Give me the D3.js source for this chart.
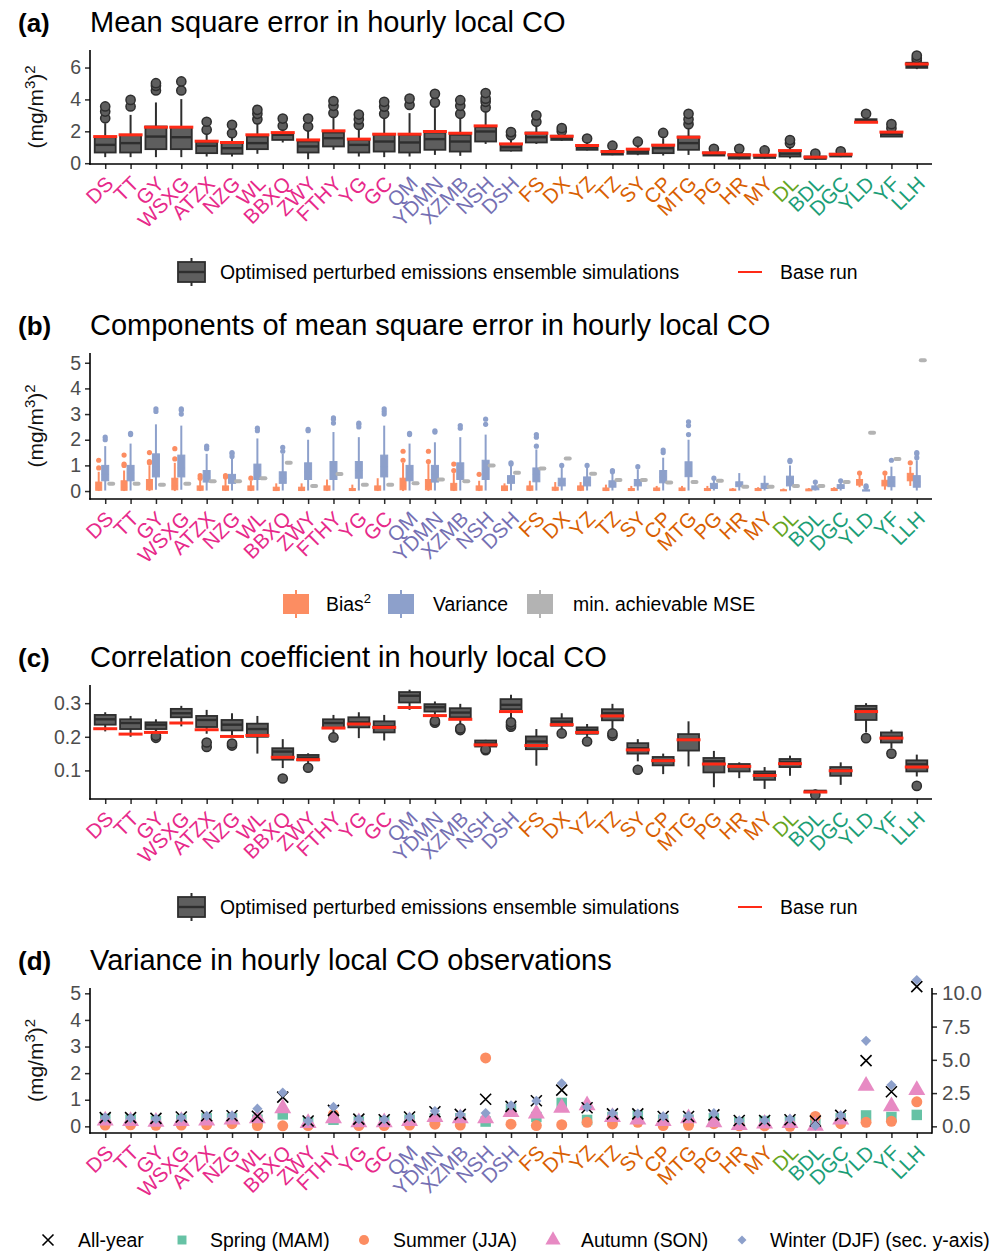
<!DOCTYPE html>
<html>
<head>
<meta charset="utf-8">
<script src="https://cdn.jsdelivr.net/npm/d3@7"></script>
<style>
  body { margin: 0; background: #fff; }
  svg text { font-family: "Liberation Sans", Arial, sans-serif; }
</style>
</head>
<body>
<div class="box"></div>
<script>
// stations and their group (colour of the tick label)
const stations = ['DS','TT','GY','WSXG','ATZX','NZG','WL','BBXQ','ZWY','FTHY','YG','GC',
                  'QM','YDMN','XZMB','NSH','DSH',
                  'FS','DX','YZ','TZ','SY','CP','MTG','PG','HR','MY',
                  'DL','BDL','DGC','YLD','YF','LLH'];
const stationGroup = [0,0,0,0,0,0,0,0,0,0,0,0, 1,1,1,1,1, 2,2,2,2,2,2,2,2,2,2, 3,4,4,4,4,4];
const groupColours = ['#e7298a','#7570b3','#d95f02','#66a61e','#1b9e77'];

// (a) MSE : [lower whisker, Q1, median, Q3, upper whisker]
const mseBox = [
  [0.38,0.67,1.15,1.63,2.51],[0.38,0.67,1.26,1.78,3.03],[0.38,0.88,1.67,2.30,3.81],[0.38,0.88,1.63,2.26,4.02],
  [0.42,0.63,1.09,1.30,1.88],[0.42,0.59,0.94,1.26,1.67],[0.59,0.88,1.26,1.67,2.62],[1.30,1.46,1.78,1.88,2.20],
  [0.25,0.67,1.05,1.36,2.09],[0.84,1.05,1.57,1.92,3.03],[0.42,0.67,1.15,1.46,2.20],[0.38,0.73,1.36,1.78,3.03],
  [0.42,0.67,1.30,1.78,3.14],[0.52,0.84,1.51,1.92,3.45],[0.46,0.73,1.36,1.78,3.03],[1.21,1.36,1.99,2.26,3.35],
  [0.73,0.79,1.00,1.21,1.67],[1.21,1.30,1.63,1.92,2.51],[1.40,1.46,1.59,1.72,1.95],[0.80,0.84,0.98,1.11,1.46],
  [0.50,0.54,0.64,0.77,0.95],[0.50,0.59,0.72,0.88,1.15],[0.48,0.63,0.94,1.15,1.57],[0.52,0.84,1.26,1.67,2.20],
  [0.45,0.48,0.56,0.67,0.75],[0.25,0.29,0.40,0.56,0.70],[0.28,0.33,0.42,0.52,0.65],[0.30,0.42,0.60,0.79,1.00],
  [0.22,0.27,0.32,0.42,0.50],[0.38,0.42,0.50,0.59,0.65],[2.55,2.57,2.64,2.76,2.85],[1.65,1.67,1.82,1.95,2.05],
  [5.90,5.98,6.10,6.30,6.35]
];
const mseOut = [[2.82,3.24,3.56],[3.56,3.97],[4.56,4.85,5.02],[4.56,5.13],[2.1,2.6],[1.88,2.41],[2.75,3.1,3.35],
  [2.35,2.8],[2.3,2.8],[3.15,3.6,3.9],[2.4,2.75,3.05],[3.1,3.55,3.85],[3.65,4.05],[3.8,4.35],[3.1,3.6,3.95],
  [3.5,3.85,4.05,4.4],[1.75,1.95],[2.6,3.0],[2.0,2.2],[1.55],[1.1],[1.35],[1.9],[2.45,2.75,3.1],[0.9],[0.9],[0.8],
  [1.25,1.45],[0.6],[0.75],[3.1],[2.2,2.45],[6.45,6.6,6.75]];
const mseBase = [1.67,1.78,2.26,2.26,1.38,1.30,1.78,1.92,1.46,2.03,1.51,1.82,1.82,1.99,1.88,2.34,1.21,1.88,1.69,
  1.11,0.73,0.88,1.13,1.63,0.65,0.52,0.50,0.79,0.38,0.56,2.57,1.95,6.22];

// (b) components of MSE
const biasBox = [
  [0,0.03,0.12,0.35,0.75],[0,0.03,0.15,0.40,0.80],[0,0.05,0.18,0.45,1.00],[0,0.05,0.20,0.50,1.10],
  [0,0.03,0.08,0.20,0.45],[0,0.03,0.08,0.20,0.50],[0,0.03,0.08,0.20,0.40],[0,0.02,0.06,0.15,0.30],
  [0,0.02,0.06,0.15,0.30],[0,0.03,0.08,0.20,0.45],[0,0.02,0.04,0.10,0.25],[0,0.03,0.08,0.20,0.50],
  [0,0.05,0.20,0.50,1.10],[0,0.05,0.18,0.45,1.05],[0,0.03,0.12,0.30,0.70],[0,0.03,0.08,0.20,0.40],
  [0,0.02,0.08,0.20,0.30],[0,0.03,0.08,0.20,0.40],[0,0.03,0.06,0.15,0.35],[0,0.03,0.08,0.20,0.35],
  [0,0.02,0.05,0.12,0.25],[0,0.02,0.04,0.10,0.20],[0,0.02,0.05,0.12,0.20],[0,0.02,0.05,0.12,0.20],
  [0,0.02,0.04,0.10,0.20],[0,0.02,0.04,0.08,0.12],[0,0.02,0.04,0.10,0.15],[0,0.01,0.03,0.05,0.10],
  [0,0.01,0.04,0.08,0.12],[0,0.02,0.05,0.10,0.15],[0.15,0.23,0.35,0.45,0.65],[0.05,0.20,0.30,0.42,0.62],
  [0.20,0.40,0.55,0.69,0.95]
];
const biasOut = [[0.9,1.2],[1.0,1.05,1.4],[1.1,1.15,1.5],[1.25,1.65],[0.5,0.6],[0.55,0.6],[0.5],[],[],[],[],[],
  [1.2,1.55],[1.15,1.55],[0.8,1.05],[0.65],[],[],[],[],[],[],[],[],[],[],[],[],[],[],[0.7],[0.7],[1.1]];
const varBox = [
  [0.02,0.40,0.65,1.00,1.75],[0.02,0.40,0.70,1.00,1.85],[0.05,0.55,0.95,1.45,2.60],[0.05,0.55,0.90,1.40,2.55],
  [0.02,0.35,0.55,0.80,1.45],[0.02,0.30,0.45,0.65,1.25],[0.02,0.45,0.75,1.05,2.05],[0.02,0.30,0.50,0.75,1.45],
  [0.02,0.45,0.75,1.10,2.00],[0.02,0.45,0.80,1.15,2.30],[0.02,0.50,0.80,1.15,2.10],[0.02,0.55,0.95,1.40,2.55],
  [0.02,0.40,0.70,1.00,1.85],[0.02,0.35,0.65,1.00,1.90],[0.02,0.45,0.75,1.10,2.10],[0.02,0.45,0.85,1.20,2.20],
  [0.02,0.30,0.45,0.60,1.00],[0.02,0.36,0.65,0.90,1.62],[0.02,0.20,0.30,0.50,0.90],[0.02,0.20,0.35,0.55,0.95],
  [0.02,0.15,0.25,0.40,0.70],[0.02,0.20,0.30,0.45,0.85],[0.02,0.32,0.55,0.80,1.30],[0.02,0.56,0.85,1.14,2.00],
  [0.02,0.10,0.20,0.30,0.45],[0.02,0.17,0.25,0.36,0.70],[0.02,0.10,0.20,0.30,0.60],[0.02,0.20,0.35,0.58,1.00],
  [0.02,0.05,0.12,0.20,0.30],[0.02,0.10,0.17,0.25,0.35],[0.00,0.00,0.02,0.05,0.10],[0.02,0.17,0.35,0.56,0.95],
  [0.02,0.15,0.35,0.60,1.20]
];
const varOut = [[2.0,2.1],[2.2,2.25],[3.1,3.2],[3.0,3.15,3.2],[1.65,1.75],[1.35,1.45,1.5],[2.35,2.45],[1.55,1.7],
  [2.35,2.4],[2.65,2.8,2.85],[2.5,2.6,2.65],[3.0,3.1,3.2],[2.2,2.25],[2.3,2.35],[2.45,2.55],[2.6,2.8],[1.05,1.1],
  [1.75,2.1,2.2],[1.0],[1.0],[0.75,0.8],[0.95],[1.5,1.6],[2.2,2.55,2.7],[0.5],[],[],[1.15,1.2],[0.35],[0.4],
  [0.15,0.2],[1.2],[1.3,1.45,1.5]];
const minMse = [0.28,0.28,0.25,0.28,0.38,0.38,0.50,1.10,0.20,0.66,0.25,0.25,0.30,0.45,0.38,1.00,0.71,0.88,1.27,
  0.67,0.43,0.43,0.33,0.35,0.40,0.17,0.17,0.20,0.20,0.35,2.27,1.25,5.10];

// (c) correlation coefficient
const corrBox = [
  [0.216,0.236,0.252,0.265,0.273],[0.200,0.223,0.241,0.252,0.262],[0.211,0.223,0.236,0.243,0.252],
  [0.231,0.258,0.270,0.283,0.292],[0.209,0.229,0.250,0.262,0.280],[0.200,0.219,0.236,0.250,0.270],
  [0.150,0.200,0.223,0.239,0.262],[0.107,0.132,0.156,0.166,0.193],[0.120,0.130,0.138,0.146,0.151],
  [0.209,0.226,0.241,0.252,0.265],[0.196,0.228,0.243,0.258,0.273],[0.189,0.213,0.231,0.246,0.265],
  [0.280,0.302,0.322,0.333,0.340],[0.258,0.275,0.288,0.297,0.305],[0.236,0.258,0.272,0.285,0.298],
  [0.163,0.171,0.180,0.189,0.191],[0.255,0.282,0.295,0.312,0.325],[0.114,0.163,0.186,0.201,0.223],
  [0.223,0.233,0.245,0.255,0.270],[0.200,0.209,0.220,0.228,0.238],[0.221,0.249,0.270,0.282,0.298],
  [0.127,0.150,0.166,0.181,0.193],[0.089,0.115,0.130,0.140,0.150],[0.112,0.159,0.191,0.208,0.246],
  [0.050,0.094,0.127,0.137,0.158],[0.077,0.097,0.112,0.119,0.124],[0.045,0.072,0.090,0.097,0.110],
  [0.084,0.110,0.125,0.134,0.144],[0.033,0.035,0.037,0.040,0.043],[0.057,0.084,0.100,0.110,0.124],
  [0.213,0.250,0.282,0.292,0.300],[0.166,0.183,0.200,0.213,0.221],[0.082,0.097,0.118,0.130,0.147]
];
const corrOut = [[],[],[0.197,0.203],[],[0.17,0.183],[0.174,0.18],[],[0.076],[0.108],[0.198],[],[],[],
  [0.242,0.247],[0.22,0.225],[0.16,0.163],[0.23,0.236,0.243],[],[0.21],[0.186],[0.203,0.21],[0.102],[],[],[],
  [],[],[],[0.028],[],[0.196],[0.15],[0.054]];
const corrBase = [0.224,0.208,0.213,0.241,0.221,0.201,0.204,0.139,0.132,0.226,0.238,0.228,0.287,0.263,0.252,0.176,
  0.275,0.174,0.236,0.213,0.262,0.161,0.129,0.191,0.119,0.112,0.085,0.120,0.036,0.099,0.275,0.196,0.110];

// (d) variance of observations, winter is on the secondary axis
const allYear = [0.33,0.33,0.30,0.35,0.40,0.40,0.38,1.10,0.20,0.60,0.27,0.25,0.35,0.55,0.45,1.02,0.75,0.96,1.36,
  0.70,0.47,0.47,0.37,0.37,0.43,0.22,0.22,0.25,0.20,0.41,2.47,1.30,5.25];
const spring = [0.28,0.25,0.20,0.25,0.30,0.30,0.25,0.45,0.15,0.25,0.18,0.18,0.25,0.30,0.30,0.18,0.66,0.35,0.88,
  0.24,0.35,0.40,0.25,0.25,0.30,0.15,0.20,0.18,0.10,0.30,0.41,0.35,0.43];
const summer = [0.05,0.06,0.04,0.05,0.06,0.10,0.03,0.02,0.03,0.45,0.03,0.03,0.05,0.08,0.05,2.57,0.08,0.03,0.06,
  0.15,0.09,0.15,0.03,0.04,0.10,0.02,0.02,0.00,0.37,0.10,0.15,0.19,0.92];
const autumn = [0.22,0.20,0.17,0.20,0.22,0.25,0.30,0.68,0.12,0.30,0.15,0.15,0.20,0.35,0.30,0.30,0.54,0.48,0.70,
  0.79,0.35,0.25,0.20,0.30,0.15,0.05,0.10,0.12,0.02,0.25,1.52,0.75,1.36];
const winter = [0.66,0.62,0.56,0.66,0.78,0.80,1.33,2.54,0.40,1.46,0.54,0.52,0.70,1.15,0.90,1.00,1.58,1.91,3.24,
  1.45,0.99,0.95,0.75,0.78,0.99,0.43,0.45,0.56,0.05,0.82,6.43,3.11,11.0];

// ---------------------------------------------------------------
const W = 1003, H = 1254;
const left = 90, right = 932;
const grey = '#2e2e2e', boxFill = '#5e5e5e', red = '#ff2a16';
const cOrange = '#fc8d62', cBlue = '#8da0cb', cGrey = '#b3b3b3', cGreen = '#66c2a5', cPink = '#e78ac3';
const tickSize = 19.5, labSize = 20.5, legSize = 19.4;

const svg = d3.select('.box').append('svg').attr('width', W).attr('height', H);

const step = (right - left) / (stations.length - 1 + 1.2);
const x = d3.scalePoint().domain(stations).range([left + 0.6 * step, right - 0.6 * step]);

const yA = d3.scaleLinear().domain([-0.05, 7.1]).range([164, 50]);
const yB = d3.scaleLinear().domain([-0.31, 5.38]).range([499, 353]);
const yC = d3.scaleLinear().domain([0.015, 0.354]).range([799, 685]);
const yD = d3.scaleLinear().domain([-0.25, 5.2]).range([1133, 988]);
const yD2 = d3.scaleLinear().domain([-0.5, 10.4]).range([1133, 988]);

// titre du panneau
function title(letter, text, y) {
  svg.append('text').attr('x', 18).attr('y', y).attr('font-size', 26).attr('font-weight', 'bold').text(letter);
  svg.append('text').attr('x', 90).attr('y', y).attr('font-size', 29).text(text);
}

function yTitle(y0, y1) {
  const t = svg.append('text').attr('transform', `translate(43,${(y0 + y1) / 2}) rotate(-90)`)
    .attr('text-anchor', 'middle').attr('font-size', 21).attr('fill', '#111');
  t.append('tspan').text('(mg/m');
  t.append('tspan').attr('font-size', 15).attr('dy', -8).text('3');
  t.append('tspan').attr('dy', 8).text(')');
  t.append('tspan').attr('font-size', 15).attr('dy', -8).text('2');
}

function axes(y, ticks, fmt) {
  const [b, t] = y.range();
  const ax = svg.append('g').attr('transform', `translate(${left},0)`)
    .call(d3.axisLeft(y).tickValues(ticks).tickSize(5).tickPadding(4).tickSizeOuter(0).tickFormat(fmt || d3.format('d')));
  ax.select('.domain').remove();
  ax.selectAll('.tick line').attr('stroke', grey).attr('stroke-width', 1.5);
  ax.selectAll('.tick text').attr('font-size', tickSize).attr('fill', '#4d4d4d').attr('font-family', null);

  const bx = svg.append('g').attr('transform', `translate(0,${b})`)
    .call(d3.axisBottom(x).tickSize(5).tickSizeOuter(0));
  bx.select('.domain').remove();
  bx.selectAll('.tick line').attr('stroke', grey).attr('stroke-width', 1.5);
  bx.selectAll('.tick text')
    .attr('y', 0).attr('dy', 0)
    .attr('text-anchor', 'end')
    .attr('transform', 'translate(9,21) rotate(-45)')
    .attr('font-size', labSize).attr('font-family', null)
    .attr('fill', (d, i) => groupColours[stationGroup[i]]);

  svg.append('line').attr('x1', left).attr('x2', left).attr('y1', t).attr('y2', b + 0.75)
    .attr('stroke', '#000').attr('stroke-width', 1.6);
  svg.append('line').attr('x1', left - 0.75).attr('x2', right).attr('y1', b).attr('y2', b)
    .attr('stroke', '#000').attr('stroke-width', 1.6);
}

// boites a moustaches
function boxes(y, data, outs, o) {
  const g = svg.append('g');
  const cx = i => x(stations[i]) + o.dx;
  const items = g.selectAll('g').data(data).join('g');
  items.append('line').attr('x1', (d, i) => cx(i)).attr('x2', (d, i) => cx(i))
    .attr('y1', d => y(d[0])).attr('y2', d => y(d[4]))
    .attr('stroke', o.stroke).attr('stroke-width', o.lw);
  items.append('rect').attr('x', (d, i) => cx(i) - o.w / 2).attr('width', o.w)
    .attr('y', d => y(d[3])).attr('height', d => Math.max(0.5, y(d[1]) - y(d[3])))
    .attr('fill', o.fill).attr('stroke', o.stroke).attr('stroke-width', o.bw);
  items.append('line').attr('x1', (d, i) => cx(i) - o.w / 2).attr('x2', (d, i) => cx(i) + o.w / 2)
    .attr('y1', d => y(d[2])).attr('y2', d => y(d[2]))
    .attr('stroke', o.stroke).attr('stroke-width', o.mw);
  const pts = outs.flatMap((arr, i) => arr.map(v => ({i, v})));
  g.selectAll('circle').data(pts).join('circle')
    .attr('cx', d => cx(d.i)).attr('cy', d => y(d.v)).attr('r', o.r)
    .attr('fill', o.fill).attr('stroke', o.stroke).attr('stroke-width', o.pw);
}

function baseRun(y, vals) {
  svg.append('g').selectAll('line').data(vals).join('line')
    .attr('x1', (d, i) => x(stations[i]) - 12).attr('x2', (d, i) => x(stations[i]) + 12)
    .attr('y1', d => y(d)).attr('y2', d => y(d))
    .attr('stroke', red).attr('stroke-width', 3);
}

function ensembleLegend(yc) {
  const g = svg.append('g');
  g.append('line').attr('x1', 191.5).attr('x2', 191.5).attr('y1', yc - 14).attr('y2', yc + 14)
    .attr('stroke', grey).attr('stroke-width', 2);
  g.append('rect').attr('x', 178).attr('y', yc - 10).attr('width', 27).attr('height', 20)
    .attr('fill', boxFill).attr('stroke', grey).attr('stroke-width', 1.8);
  g.append('line').attr('x1', 178).attr('x2', 205).attr('y1', yc).attr('y2', yc)
    .attr('stroke', grey).attr('stroke-width', 2.4);
  g.append('text').attr('x', 220).attr('y', yc + 7).attr('font-size', legSize)
    .text('Optimised perturbed emissions ensemble simulations');
  g.append('line').attr('x1', 738).attr('x2', 762).attr('y1', yc).attr('y2', yc)
    .attr('stroke', red).attr('stroke-width', 2);
  g.append('text').attr('x', 780).attr('y', yc + 7).attr('font-size', legSize).text('Base run');
}

// ---------------- (a)
title('(a)', 'Mean square error in hourly local CO', 32);
yTitle(50, 164);
axes(yA, [0, 2, 4, 6]);
boxes(yA, mseBox, mseOut, {dx: 0, w: 21, fill: boxFill, stroke: grey, lw: 2, bw: 1.8, mw: 2.4, r: 4.6, pw: 1.5});
baseRun(yA, mseBase);
ensembleLegend(272);

// ---------------- (b)
title('(b)', 'Components of mean square error in hourly local CO', 335);
yTitle(353, 499);
axes(yB, [0, 1, 2, 3, 4, 5]);
boxes(yB, biasBox, biasOut, {dx: -6.5, w: 6, fill: cOrange, stroke: cOrange, lw: 2, bw: 1, mw: 1, r: 2.6, pw: 0});
boxes(yB, varBox, varOut, {dx: 0, w: 7, fill: cBlue, stroke: cBlue, lw: 2, bw: 1, mw: 1, r: 2.6, pw: 0});
svg.append('g').selectAll('rect').data(minMse).join('rect')
  .attr('x', (d, i) => x(stations[i]) + 2).attr('width', 8)
  .attr('y', d => yB(d) - 2).attr('height', 4).attr('rx', 2)
  .attr('fill', cGrey);

const legB = [
  {x: 283, c: cOrange, label: 'Bias', sup: '2', tx: 326},
  {x: 388, c: cBlue, label: 'Variance', tx: 433},
  {x: 527, c: cGrey, label: 'min. achievable MSE', tx: 573}
];
const lb = svg.append('g').selectAll('g').data(legB).join('g');
lb.append('line').attr('x1', d => d.x + 13).attr('x2', d => d.x + 13).attr('y1', 590).attr('y2', 618)
  .attr('stroke', d => d.c).attr('stroke-width', 2);
lb.append('rect').attr('x', d => d.x).attr('y', 594).attr('width', 26).attr('height', 20).attr('fill', d => d.c);
const lbt = lb.append('text').attr('x', d => d.tx).attr('y', 611).attr('font-size', legSize);
lbt.append('tspan').text(d => d.label);
lbt.filter(d => d.sup).append('tspan').attr('font-size', 13).attr('dy', -8).text(d => d.sup);

// ---------------- (c)
title('(c)', 'Correlation coefficient in hourly local CO', 667);
axes(yC, [0.1, 0.2, 0.3], d3.format('.1f'));
boxes(yC, corrBox, corrOut, {dx: 0, w: 21, fill: boxFill, stroke: grey, lw: 2, bw: 1.8, mw: 2.4, r: 4.6, pw: 1.5});
baseRun(yC, corrBase);
ensembleLegend(907);

// ---------------- (d)
title('(d)', 'Variance in hourly local CO observations', 970);
yTitle(988, 1133);
axes(yD, [0, 1, 2, 3, 4, 5]);
const ax2 = svg.append('g').attr('transform', `translate(${right},0)`)
  .call(d3.axisRight(yD2).tickValues([0, 2.5, 5, 7.5, 10]).tickSize(5).tickPadding(5).tickSizeOuter(0)
    .tickFormat(d3.format('.1f')));
ax2.select('.domain').remove();
ax2.selectAll('.tick line').attr('stroke', grey).attr('stroke-width', 1.5);
ax2.selectAll('.tick text').attr('font-size', 20.5).attr('fill', '#4d4d4d').attr('font-family', null);
svg.append('line').attr('x1', right).attr('x2', right).attr('y1', 988).attr('y2', 1133.75)
  .attr('stroke', '#000').attr('stroke-width', 1.6);

const sq = d3.symbol(d3.symbolSquare, 110)();
const ci = d3.symbol(d3.symbolCircle, 95)();
const tri = d3.symbol(d3.symbolTriangle, 125)();
const dia = d3.symbol(d3.symbolSquare, 52)();
const cross = 'M-5.5,-5.5L5.5,5.5M-5.5,5.5L5.5,-5.5';

function markers(vals, y, path, fill, rot) {
  svg.append('g').selectAll('path').data(vals).join('path')
    .attr('d', path)
    .attr('transform', (d, i) => `translate(${x(stations[i])},${y(d)})${rot ? ' rotate(45)' : ''}`)
    .attr('fill', fill || 'none')
    .attr('stroke', fill ? 'none' : '#000').attr('stroke-width', 1.6);
}
markers(spring, yD, sq, cGreen);
markers(summer, yD, ci, cOrange);
markers(autumn, yD, tri, cPink);
markers(allYear, yD, cross, null);
markers(winter, yD2, dia, cBlue, true);

const legD = [
  {x: 48, path: cross, fill: null, label: 'All-year', tx: 78},
  {x: 182, path: d3.symbol(d3.symbolSquare, 80)(), fill: cGreen, label: 'Spring (MAM)', tx: 210},
  {x: 364, path: d3.symbol(d3.symbolCircle, 80)(), fill: cOrange, label: 'Summer (JJA)', tx: 393},
  {x: 553, path: d3.symbol(d3.symbolTriangle, 100)(), fill: cPink, label: 'Autumn (SON)', tx: 581},
  {x: 742, path: d3.symbol(d3.symbolSquare, 40)(), fill: cBlue, label: 'Winter (DJF) (sec. y-axis)', tx: 770, rot: true}
];
const ld = svg.append('g').selectAll('g').data(legD).join('g');
ld.append('path').attr('d', d => d.path)
  .attr('transform', d => `translate(${d.x},1240)${d.rot ? ' rotate(45)' : ''}`)
  .attr('fill', d => d.fill || 'none').attr('stroke', d => d.fill ? 'none' : '#000').attr('stroke-width', 1.6);
ld.append('text').attr('x', d => d.tx).attr('y', 1247).attr('font-size', legSize).text(d => d.label);
</script>
</body>
</html>
